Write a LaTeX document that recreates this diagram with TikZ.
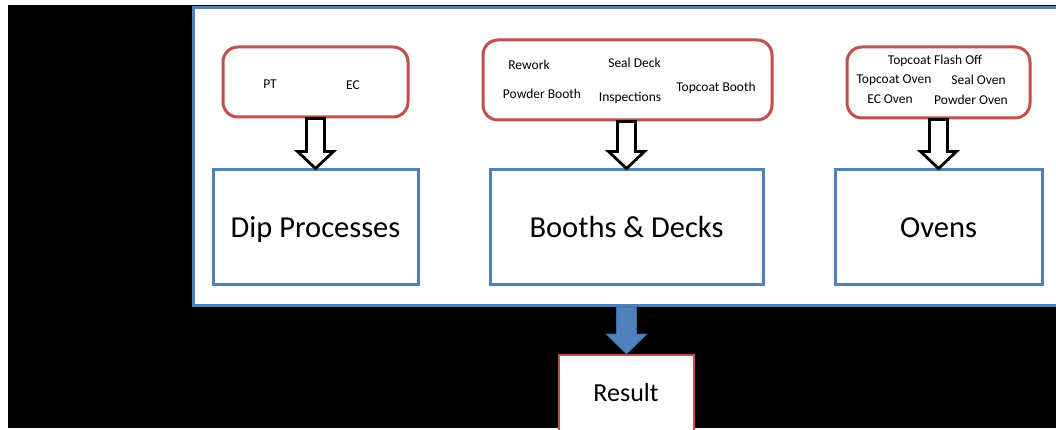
\documentclass[tikz,border=0pt]{standalone}
\usepackage{fontspec}
\setmainfont{Carlito}
\usetikzlibrary{calc}
\definecolor{obl}{HTML}{4F81BD}
\definecolor{ored}{HTML}{C0504D}
\tikzset{
  catbox/.style={draw=obl,line width=3pt,fill=white,inner sep=0pt,text height=23pt,text depth=3pt,font=\fontsize{30.5}{34}\selectfont},
  listbox/.style={draw=ored,line width=3pt,fill=white,rounded corners=15pt,inner sep=0pt},
  small/.style={font=\fontsize{13.5}{16}\selectfont,inner sep=0pt},
  resbox/.style={draw=ored,line width=2pt,fill=white,inner sep=0pt,font=\fontsize{26}{30}\selectfont},
  hollow/.style={draw=black,line width=2.8pt,fill=white,line join=miter},
  bluearrow/.style={fill=obl,draw=obl!80!black,line width=0.6pt}
}
\newcommand\hollowarrow[2]{%
  \draw[hollow] let \p1=(#1.south), \p2=(#2.north) in
   (\x2-9pt,\y1) -- (\x2-9pt,\y2+17pt) -- (\x2-18pt,\y2+17pt) -- (\x2,\y2)
   -- (\x2+18pt,\y2+17pt) -- (\x2+9pt,\y2+17pt) -- (\x2+9pt,\y1) -- cycle;}
\begin{document}
\begin{tikzpicture}[x=1pt,y=-1pt]
\useasboundingbox (0,0) rectangle (1056,430);
\clip (0,0) rectangle (1056,430);
\fill[white] (0,0) rectangle (1056,430);
\fill[black] (8,5) rectangle (1056,428);
% outer panel
\node[draw=obl,line width=3pt,fill=white,inner sep=0pt,minimum width=880pt,minimum height=298pt,anchor=north west] (panel) at (192,6) {};
% list boxes
\node[listbox,minimum width=185pt,minimum height=70pt] (l1) at (315.5,82) {};
\node[listbox,minimum width=289pt,minimum height=80pt] (l2) at (627.5,80) {};
\node[listbox,minimum width=183pt,minimum height=71pt] (l3) at (938.5,82.5) {};
% list texts
\node[small] (pt) at (270,84) {PT};
\node[small] (ec) at (353,85) {EC};
\node[small] (rw) at (529,65) {Rework};
\node[small] (sd) at (634.5,63) {Seal Deck};
\node[small] (pb) at (542,94) {Powder Booth};
\node[small] (ins) at (630,98) {Inspections};
\node[small] (tb) at (716,88) {Topcoat Booth};
\node[small] (tf) at (935,61) {Topcoat Flash Off};
\node[small] (to) at (894,80) {Topcoat Oven};
\node[small] (so) at (978.5,80) {Seal Oven};
\node[small] (eo) at (890,99) {EC Oven};
\node[small] (po) at (971,100) {Powder Oven};
% category boxes
\node[catbox,minimum width=205pt,minimum height=114pt] (dip) at (315.5,227) {Dip Processes};
\node[catbox,minimum width=273pt,minimum height=114pt] (bd) at (626.5,227) {Booths \& Decks};
\node[catbox,minimum width=207pt,minimum height=114pt] (ov) at (938.5,227) {Ovens};
% hollow arrows
\hollowarrow{l1}{dip}
\hollowarrow{l2}{bd}
\hollowarrow{l3}{ov}
% result
\node[resbox,minimum width=135pt,minimum height=80pt,anchor=north] (res) at (626.5,354) {};
\node[font=\fontsize{26}{30}\selectfont,inner sep=0pt] (restext) at (626,393) {Result};
\fill[bluearrow] let \p1=(panel.south), \p2=(res.north) in
   (\x2-10pt,\y1) -- (\x2-10pt,\y2+20pt) -- (\x2-20.5pt,\y2+20pt) -- (\x2,\y2)
   -- (\x2+20.5pt,\y2+20pt) -- (\x2+10pt,\y2+20pt) -- (\x2+10pt,\y1) -- cycle;
\end{tikzpicture}
\end{document}
